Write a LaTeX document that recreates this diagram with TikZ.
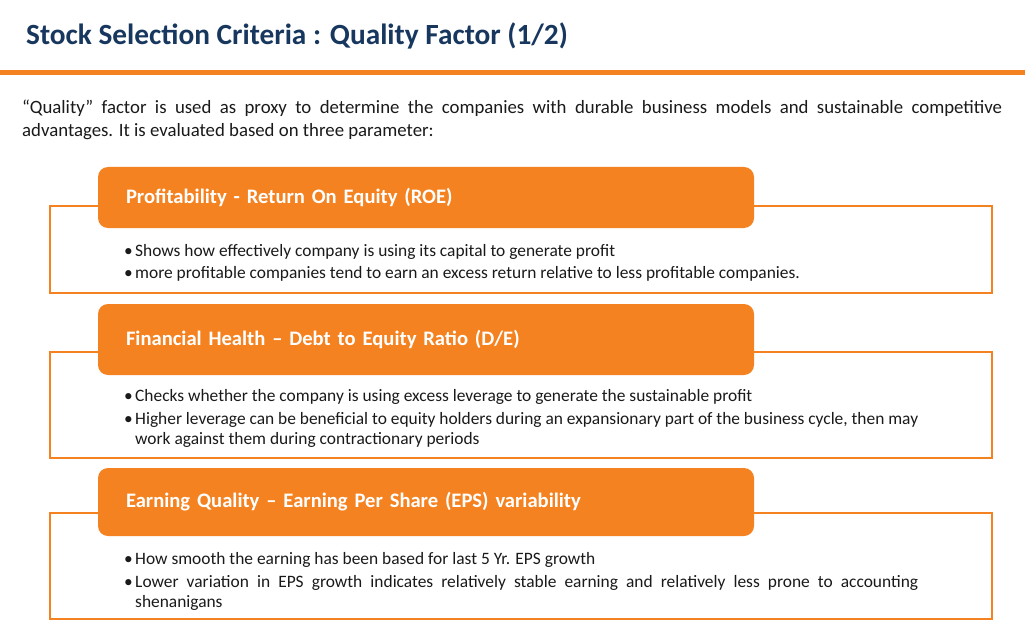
\documentclass[tikz,border=0pt]{standalone}
\usepackage{fontspec}
\setmainfont{Carlito}
\definecolor{navy}{HTML}{17375E}
\definecolor{orng}{HTML}{F58220}
\definecolor{txt}{HTML}{1A1A1A}
\newcommand{\nohyph}{\hyphenpenalty=10000\exhyphenpenalty=10000\relax}
\tikzset{
  outline/.style={draw=orng, line width=2.6pt},
  header/.style={fill=orng, rounded corners=10pt, minimum width=656pt,
    text width=600pt, inner xsep=28pt, align=left, text=white,
    font=\fontsize{20.6}{24}\selectfont\bfseries},
  bullets/.style={anchor=base west, text width=794pt, inner sep=0pt, align=justify, text=txt,
    font=\fontsize{17.4}{20.5}\selectfont\nohyph},
}
\newcommand{\bul}[1]{\hangindent=11pt\hangafter=1\noindent\makebox[11pt][l]{\textbullet}#1\par}
\begin{document}
\begin{tikzpicture}[x=1pt,y=-1pt]
\useasboundingbox (0,0) rectangle (1025,639);
\fill[white] (0,0) rectangle (1025,639);
\node[anchor=base west, inner sep=0pt, text=navy, font=\fontsize{29.3}{34}\selectfont\bfseries] (title) at (26,45) {Stock Selection Criteria : Quality Factor (1/2)};
\fill[orng] (0,70) rectangle (1025,75);
\node[anchor=base west, inner sep=0pt, text width=980pt, align=justify, text=txt,
  font=\fontsize{18.8}{23}\selectfont] (intro) at (22,114)
  {“Quality” factor is used as proxy to determine the companies with durable business models and sustainable competitive\linebreak advantages. It is evaluated based on three parameter:};
% Box 1
\draw[outline] (50,206) rectangle (992,293);
\node[header, minimum height=61pt] (h1) at (426,197.5) {Profitability - Return On Equity (ROE)};
\node[bullets] (b1) at (124,256) {\setlength{\parskip}{1.5pt}%
\bul{Shows how effectively company is using its capital to generate profit}%
\bul{more profitable companies tend to earn an excess return relative to less profitable companies.}};
% Box 2
\draw[outline] (50,352) rectangle (992,458);
\node[header, minimum height=71pt] (h2) at (426,339.5) {Financial Health – Debt to Equity Ratio (D/E)};
\node[bullets] (b2) at (124,401) {\setlength{\parskip}{2.5pt}%
\bul{Checks whether the company is using excess leverage to generate the sustainable profit}%
\bul{Higher leverage can be beneficial to equity holders during an expansionary part of the business cycle, then may work against them during contractionary periods}};
% Box 3
\draw[outline] (50,513) rectangle (992,619);
\node[header, minimum height=68pt] (h3) at (426,502) {Earning Quality – Earning Per Share (EPS) variability};
\node[bullets] (b3) at (124,564) {\setlength{\parskip}{2.5pt}%
\bul{How smooth the earning has been based for last 5 Yr. EPS growth}%
\bul{Lower variation in EPS growth indicates relatively stable earning and relatively less prone to accounting shenanigans}};
\end{tikzpicture}
\end{document}
